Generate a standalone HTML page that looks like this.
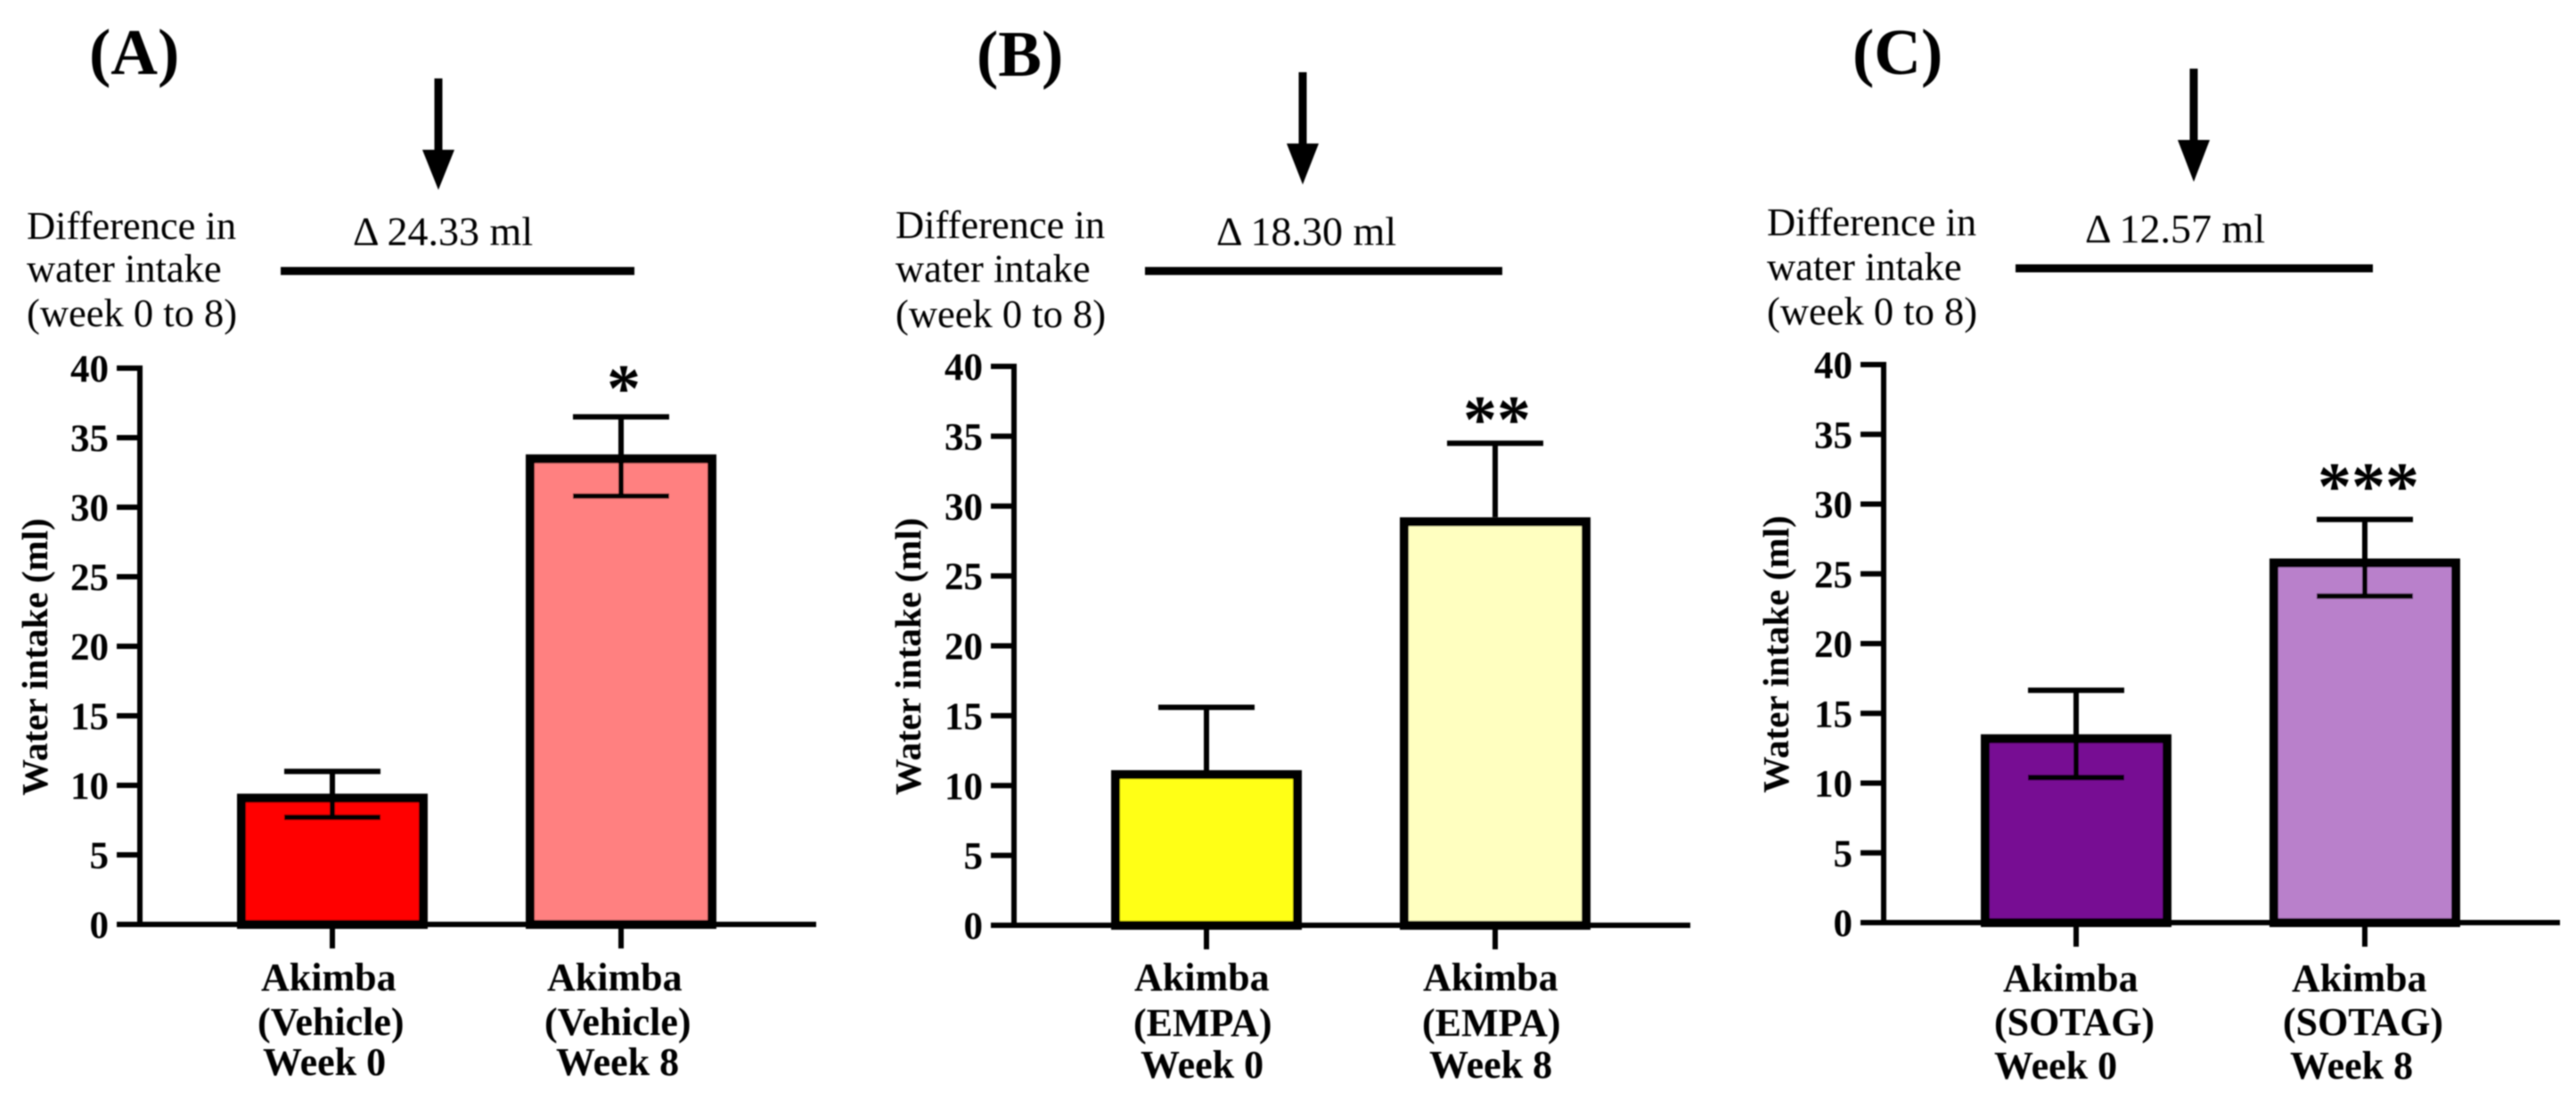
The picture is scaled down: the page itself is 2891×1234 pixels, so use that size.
<!DOCTYPE html>
<html lang="en">
<head>
<meta charset="utf-8">
<title>Water intake, weeks 0 and 8</title>
<style>
html,body{margin:0;padding:0;background:#fff;}
body{width:2891px;height:1234px;overflow:hidden;}
svg{display:block;}
text{font-family:"Liberation Serif",serif;fill:#000;}
</style>
</head>
<body>
<svg id="figure" xmlns="http://www.w3.org/2000/svg" width="2891" height="1234" viewBox="0 0 2891 1234">
<defs><filter id="soft" x="-2%" y="-2%" width="104%" height="104%"><feGaussianBlur stdDeviation="0.7"/></filter></defs>
<rect width="2891" height="1234" fill="#fff"/>
<g id="root" filter="url(#soft)"></g>
</svg>
<script>
// Chart data
const tickValues = [0, 5, 10, 15, 20, 25, 30, 35, 40];
const meansA = [9.4, 33.8];
const upperA = [11.0, 36.5];
const lowerA = [7.7, 30.8];
const meansB = [11.1, 29.2];
const upperB = [15.6, 34.5];
const lowerB = [null, null];
const meansC = [13.5, 26.1];
const upperC = [16.65, 28.9];
const lowerC = [10.4, 23.4];
const categoriesA = [["Akimba", "(Vehicle)", "Week 0"], ["Akimba", "(Vehicle)", "Week 8"]];
const categoriesB = [["Akimba", "(EMPA)", "Week 0"], ["Akimba", "(EMPA)", "Week 8"]];
const categoriesC = [["Akimba", "(SOTAG)", "Week 0"], ["Akimba", "(SOTAG)", "Week 8"]];
const deltaA = "Δ 24.33 ml";
const deltaB = "Δ 18.30 ml";
const deltaC = "Δ 12.57 ml";

const panels = [
  {id:"a", letter:"(A)", letterX:100, letterY:83, ax:157, y0:1037, y40:413, means:meansA, upper:upperA, lower:lowerA, cats:categoriesA,
   colors:["#ff0000","#ff8080"], stars:"*", starX:700, starY:425, delta:deltaA, deltaX:396, deltaY:275,
   diffX:30, diffY:[268,316,366], arrowX:492, arrowTop:88, arrowHead:168, arrowTip:213, lineL:315, lineR:712, lineY:304,
   labelLeft:[[293,289,295],[614,611,624]], labelY:[1111,1161,1206], titleX:53},
  {id:"b", letter:"(B)", letterX:1096, letterY:85, ax:1138, y0:1038, y40:411, means:meansB, upper:upperB, lower:lowerB, cats:categoriesB,
   colors:["#ffff14","#ffffc0"], stars:"**", starX:1680, starY:460, delta:deltaB, deltaX:1365, deltaY:275,
   diffX:1005, diffY:[267,316,367], arrowX:1462, arrowTop:81, arrowHead:161, arrowTip:207, lineL:1285, lineR:1686, lineY:304,
   labelLeft:[[1273,1272,1280],[1597,1596,1604]], labelY:[1111,1162,1209], titleX:1033},
  {id:"c", letter:"(C)", letterX:2079, letterY:83, ax:2114, y0:1035, y40:409, means:meansC, upper:upperC, lower:lowerC, cats:categoriesC,
   colors:["#770b93","#b980cb"], stars:"***", starX:2658, starY:535, delta:deltaC, deltaX:2340, deltaY:272,
   diffX:1983, diffY:[264,314,364], arrowX:2462, arrowTop:77, arrowHead:157, arrowTip:204, lineL:2262, lineR:2663, lineY:301,
   labelLeft:[[2248,2238,2238],[2572,2562,2570]], labelY:[1112,1161,1210], titleX:2007}
];

const NS = "http://www.w3.org/2000/svg";
const root = document.getElementById("root");
function mk(tag, attrs, parent, txt){
  const e = document.createElementNS(NS, tag);
  for (const k in attrs) e.setAttribute(k, attrs[k]);
  if (txt !== undefined) e.textContent = txt;
  parent.appendChild(e);
  return e;
}
function ln(x1,y1,x2,y2,w,parent){
  return mk("line",{x1:x1,y1:y1,x2:x2,y2:y2,stroke:"#000","stroke-width":w},parent);
}

panels.forEach(function(p){
  const yScale = function(v){ return p.y0 - (v/40)*(p.y0-p.y40); };
  const xCenter = function(i){ return p.ax + 216 + i*324; };
  const barHalf = 107, capHalf = 54, bw = 10;

  const g = mk("g",{},root);
  
  

  const letter = mk("text",{x:p.letterX,y:p.letterY,"font-size":73,"font-weight":"bold"},g,p.letter);
  
  

  const arrow = mk("g",{},g);
  
  
  ln(p.arrowX,p.arrowTop,p.arrowX,p.arrowHead+2,9,arrow);
  mk("polygon",{points:(p.arrowX-18)+","+p.arrowHead+" "+(p.arrowX+18)+","+p.arrowHead+" "+p.arrowX+","+p.arrowTip,fill:"#000"},arrow);

  ["Difference in","water intake","(week 0 to 8)"].forEach(function(t,i){
    const d = mk("text",{x:p.diffX,y:p.diffY[i],"font-size":44.5},g,t);
    
    
  });

  const delta = mk("text",{x:p.deltaX,y:p.deltaY,"font-size":46},g,p.delta);
  
  

  const rule = ln(p.lineL,p.lineY,p.lineR,p.lineY,9,g);
  
  

  // bars
  p.means.forEach(function(m,i){
    const cx = xCenter(i), top = yScale(m);
    const bar = mk("rect",{x:cx-barHalf+bw/2,y:top+bw/2,width:2*barHalf-bw,height:p.y0-top-bw/2,fill:p.colors[i],stroke:"#000","stroke-width":bw},g);
    
    
  });

  // axes
  const axes = mk("g",{},g);
  
  
  ln(p.ax,yScale(40)-3,p.ax,p.y0+3,6,axes);
  tickValues.forEach(function(v){
    const y = yScale(v);
    ln(p.ax-26,y,p.ax+(v===40?3:0),y,6,axes);
    const t = mk("text",{x:p.ax-35,y:y+15,"font-size":43,"font-weight":"bold","text-anchor":"end"},g,String(v));
    
    
  });
  ln(p.ax-26,p.y0,p.ax+759,p.y0,6,axes);

  // error bars and category ticks
  p.means.forEach(function(m,i){
    const cx = xCenter(i);
    const err = mk("g",{},g);
    
    
    const hi = yScale(p.upper[i]);
    const loV = p.lower[i];
    const lo = loV === null ? yScale(m) : yScale(loV);
    ln(cx,hi,cx,lo,6,err);
    ln(cx-capHalf,hi,cx+capHalf,hi,6,err);
    if (loV !== null) ln(cx-capHalf,lo,cx+capHalf,lo,6,err);
    const tk = ln(cx,p.y0,cx,p.y0+27,6,g);
    
    
    p.cats[i].forEach(function(line,j){
      const c = mk("text",{x:p.labelLeft[i][j],y:p.labelY[j],"font-size":44,"font-weight":"bold"},g,line);
      
      
    });
  });

  const stars = mk("text",{x:p.starX,y:p.starY+36,"font-size":76,"font-weight":"bold","text-anchor":"middle"},g,p.stars);
  
  

  const cy = (p.y0 + p.y40)/2 + 12;
  const title = mk("text",{x:p.titleX,y:cy,"font-size":41,"font-weight":"bold","text-anchor":"middle",transform:"rotate(-90 "+p.titleX+" "+cy+")"},g,"Water intake (ml)");
  
  
});
</script>
</body>
</html>
